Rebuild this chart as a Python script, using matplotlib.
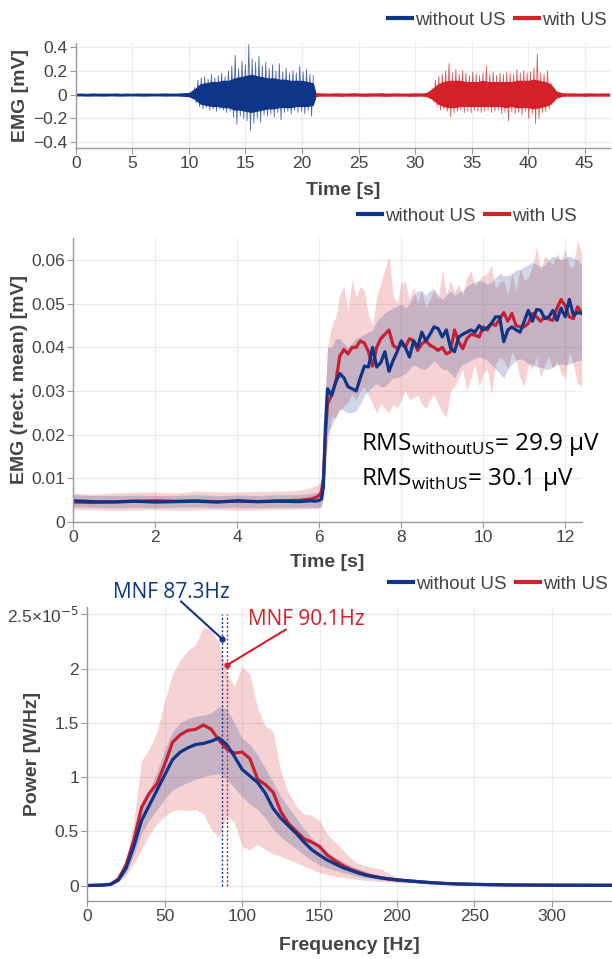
import numpy as np
import matplotlib
matplotlib.use("Agg")
from matplotlib import pyplot as plt
from matplotlib.lines import Line2D

plt.rcParams['font.family'] = ['Liberation Sans', 'DejaVu Sans']

BLUE = "#0e3587"
RED = "#d42028"
RED_LINE = "#c72131"
TXT = "#444444"
GRID = "#ebebeb"
AXIS = "#9a9a9a"
NOTE_FONT = ['Open Sans', 'DejaVu Sans']

# ---- raw EMG (top) : envelopes every 0.5 s, spikes every 0.15 s ----
raw_blue_t = np.concatenate([np.arange(0, 21.01, 0.5), [21.2]])
raw_blue_hi = [0.012, 0.013, 0.011, 0.014, 0.012, 0.013, 0.012, 0.014, 0.011, 0.013,
               0.012, 0.014, 0.012, 0.013, 0.012, 0.013, 0.014, 0.012, 0.013, 0.016,
               0.018, 0.05, 0.09, 0.10, 0.11, 0.11, 0.12, 0.12, 0.14, 0.15,
               0.16, 0.17, 0.16, 0.15, 0.14, 0.14, 0.13, 0.13, 0.12, 0.12,
               0.12, 0.11, 0.10, 0.03]
raw_blue_lo = [-0.012, -0.011, -0.013, -0.012, -0.012, -0.013, -0.011, -0.012, -0.013, -0.012,
               -0.011, -0.012, -0.013, -0.012, -0.011, -0.012, -0.013, -0.012, -0.012, -0.015,
               -0.018, -0.04, -0.08, -0.09, -0.10, -0.10, -0.11, -0.11, -0.13, -0.13,
               -0.14, -0.15, -0.14, -0.13, -0.12, -0.12, -0.11, -0.11, -0.11, -0.10,
               -0.10, -0.10, -0.09, -0.03]
raw_red_t = np.concatenate([[21.2], np.arange(21.5, 47.01, 0.5), [47.2]])
raw_red_hi = [0.02,
              0.015, 0.014, 0.013, 0.015, 0.014, 0.013, 0.016, 0.014, 0.013, 0.015,
              0.014, 0.016, 0.013, 0.014, 0.015, 0.013, 0.014, 0.015, 0.014, 0.018,
              0.05, 0.09, 0.11, 0.12, 0.12, 0.12, 0.11, 0.11, 0.11, 0.12, 0.11,
              0.11, 0.11, 0.11, 0.11, 0.12, 0.12, 0.12, 0.13, 0.12, 0.11, 0.09,
              0.03, 0.016, 0.014, 0.015, 0.013, 0.014, 0.015, 0.013, 0.014, 0.014,
              0.013]
raw_red_lo = [-0.02,
              -0.014, -0.013, -0.014, -0.013, -0.015, -0.013, -0.014, -0.013, -0.015, -0.014,
              -0.013, -0.014, -0.015, -0.013, -0.014, -0.013, -0.015, -0.014, -0.013, -0.017,
              -0.04, -0.08, -0.10, -0.11, -0.11, -0.10, -0.10, -0.10, -0.10, -0.10, -0.10,
              -0.10, -0.10, -0.11, -0.10, -0.11, -0.11, -0.11, -0.12, -0.11, -0.10, -0.08,
              -0.03, -0.015, -0.013, -0.014, -0.013, -0.015, -0.013, -0.014, -0.013, -0.014,
              -0.013]
spike_blue = [0.06, -0.07, 0.12, -0.10, 0.14, -0.12, 0.15, -0.11, 0.13, -0.13,
              0.17, -0.12, 0.14, -0.14, 0.16, -0.12, 0.18, -0.13, 0.15, -0.15,
              0.20, -0.14, 0.24, -0.19, 0.33, -0.25, 0.22, -0.18, 0.28, -0.20,
              0.25, -0.22, 0.42, -0.30, 0.30, -0.24, 0.27, -0.20, 0.32, -0.23,
              0.24, -0.17, 0.27, -0.18, 0.22, -0.16, 0.25, -0.19, 0.20, -0.15,
              0.26, -0.21, 0.19, -0.15, 0.22, -0.14, 0.18, -0.16, 0.20, -0.13,
              0.18, -0.15, 0.24, -0.14, 0.19, -0.16, 0.21, -0.13, 0.17, -0.18,
              0.16]
spike_red = [0.05, -0.06, 0.12, -0.10, 0.15, -0.13, 0.17, -0.12, 0.20, -0.14,
             0.26, -0.19, 0.18, -0.15, 0.21, -0.14, 0.17, -0.13, 0.20, -0.15,
             0.18, -0.14, 0.16, -0.15, 0.19, -0.13, 0.17, -0.14, 0.16, -0.15,
             0.18, -0.14, 0.24, -0.13, 0.17, -0.15, 0.19, -0.14, 0.16, -0.13,
             0.18, -0.16, 0.17, -0.15, 0.19, -0.22, 0.18, -0.14, 0.17, -0.16,
             0.21, -0.15, 0.18, -0.17, 0.20, -0.14, 0.18, -0.20, 0.19, -0.16,
             0.22, -0.24, 0.34, -0.20, 0.18, -0.15, 0.17, -0.14, 0.20, -0.12,
             0.10]
spike_blue_t = 10.5 + 0.15 * np.arange(len(spike_blue))
spike_red_t = 31.5 + 0.15 * np.arange(len(spike_red))

# ---- rectified mean (middle) ----
rect_t = [0, 0.5, 1.0, 1.5, 2.0, 2.5, 3.0, 3.5, 4.0, 4.5, 5.0, 5.5, 5.8, 5.9, 6.0, 6.05, 6.1, 6.15, 6.2,
          6.3, 6.4, 6.5, 6.6, 6.7, 6.8, 6.9, 7.0, 7.1, 7.2, 7.3, 7.4, 7.5, 7.6, 7.7, 7.8, 7.9,
          8.0, 8.1, 8.2, 8.3, 8.4, 8.5, 8.6, 8.7, 8.8, 8.9, 9.0, 9.1, 9.2, 9.3, 9.4, 9.5, 9.6,
          9.7, 9.8, 9.9, 10.0, 10.1, 10.2, 10.3, 10.4, 10.5, 10.6, 10.7, 10.8, 10.9, 11.0, 11.1,
          11.2, 11.3, 11.4, 11.5, 11.6, 11.7, 11.8, 11.9, 12.0, 12.1, 12.2, 12.3, 12.4]
rect_blue = [0.0048, 0.0046, 0.0045, 0.0047, 0.0045, 0.0046, 0.0047, 0.0045, 0.0048, 0.0046,
             0.0047, 0.0046, 0.0048, 0.0047, 0.0049, 0.0052, 0.008, 0.022, 0.0305,
             0.029, 0.032, 0.034, 0.033, 0.031, 0.0305, 0.030, 0.033, 0.0357, 0.0355, 0.040,
             0.0355, 0.0365, 0.039, 0.0345, 0.037, 0.039, 0.0415, 0.040, 0.0378, 0.0415, 0.040,
             0.0435, 0.0415, 0.043, 0.0447, 0.0443, 0.0424, 0.044, 0.040, 0.039, 0.0424, 0.043,
             0.0435, 0.044, 0.0435, 0.045, 0.044, 0.0445, 0.0455, 0.047, 0.047, 0.0413, 0.044,
             0.0447, 0.044, 0.0435, 0.046, 0.0485, 0.046, 0.0487, 0.0485, 0.0466, 0.047, 0.0485,
             0.0462, 0.049, 0.047, 0.051, 0.0474, 0.048, 0.0478]
rect_red = [0.0045, 0.0044, 0.0046, 0.0047, 0.0048, 0.0047, 0.0048, 0.0046, 0.0047, 0.0046,
            0.0048, 0.0049, 0.0052, 0.0055, 0.0060, 0.0068, 0.010, 0.020, 0.027,
            0.029, 0.032, 0.038, 0.0395, 0.0385, 0.040, 0.040, 0.0415, 0.041, 0.039, 0.0357,
            0.040, 0.042, 0.043, 0.044, 0.0405, 0.0397, 0.0408, 0.040, 0.042, 0.0415, 0.0393,
            0.0408, 0.0415, 0.0405, 0.040, 0.0393, 0.040, 0.0385, 0.039, 0.044, 0.0413, 0.0397,
            0.042, 0.043, 0.0428, 0.0424, 0.0447, 0.044, 0.0455, 0.045, 0.0465, 0.048, 0.046,
            0.0478, 0.045, 0.0447, 0.0447, 0.0455, 0.0478, 0.047, 0.046, 0.047, 0.0465, 0.0462,
            0.049, 0.051, 0.0495, 0.047, 0.0466, 0.0493, 0.0481]
rect_red_hi = [0.0065, 0.0063, 0.0066, 0.0068, 0.0068, 0.0066, 0.007, 0.0068, 0.0068, 0.0069,
               0.007, 0.0072, 0.0078, 0.0082, 0.0088, 0.0095, 0.016, 0.030, 0.040,
               0.045, 0.047, 0.052, 0.054, 0.0485, 0.0556, 0.0516, 0.054, 0.053, 0.0473, 0.045,
               0.0516, 0.055, 0.058, 0.061, 0.052, 0.050, 0.055, 0.055, 0.051, 0.054, 0.050,
               0.053, 0.049, 0.051, 0.053, 0.051, 0.058, 0.052, 0.0554, 0.0527, 0.0546, 0.052,
               0.056, 0.0577, 0.054, 0.0554, 0.0565, 0.057, 0.059, 0.0535, 0.055, 0.0554, 0.052,
               0.057, 0.053, 0.058, 0.0554, 0.056, 0.0585, 0.063, 0.0577, 0.061, 0.060, 0.059,
               0.0615, 0.060, 0.0627, 0.0585, 0.0585, 0.0646, 0.0615]
rect_red_lo = [0.0028, 0.0027, 0.0026, 0.0027, 0.0028, 0.0026, 0.0027, 0.0028, 0.0026, 0.0027,
               0.0028, 0.0029, 0.003, 0.003, 0.0032, 0.0035, 0.006, 0.012, 0.018,
               0.024, 0.024, 0.0255, 0.0265, 0.0275, 0.0293, 0.028, 0.030, 0.031, 0.029, 0.027,
               0.025, 0.027, 0.026, 0.025, 0.027, 0.026, 0.028, 0.030, 0.028, 0.0285, 0.029,
               0.027, 0.026, 0.028, 0.029, 0.027, 0.025, 0.024, 0.030, 0.031, 0.033, 0.035,
               0.030, 0.033, 0.0362, 0.031, 0.034, 0.035, 0.0293, 0.0362, 0.0378, 0.037, 0.035,
               0.039, 0.037, 0.033, 0.031, 0.0362, 0.035, 0.0378, 0.033, 0.036, 0.0378, 0.035,
               0.037, 0.034, 0.033, 0.039, 0.0362, 0.0317, 0.031]
rect_blue_hi = [0.0062, 0.006, 0.006, 0.0061, 0.006, 0.006, 0.0062, 0.006, 0.0061, 0.006,
                0.0062, 0.0062, 0.0065, 0.0066, 0.0068, 0.0075, 0.012, 0.03, 0.040,
                0.040, 0.042, 0.042, 0.041, 0.040, 0.041, 0.042, 0.0425, 0.043, 0.0435, 0.044,
                0.046, 0.047, 0.048, 0.0485, 0.049, 0.0495, 0.050, 0.049, 0.050, 0.052, 0.053,
                0.053, 0.052, 0.053, 0.0535, 0.052, 0.051, 0.052, 0.053, 0.052, 0.0527, 0.053,
                0.054, 0.0546, 0.055, 0.0554, 0.055, 0.0546, 0.055, 0.056, 0.057, 0.0565, 0.0565,
                0.057, 0.0577, 0.058, 0.0585, 0.059, 0.0596, 0.059, 0.0585, 0.059, 0.060, 0.061,
                0.0605, 0.060, 0.0605, 0.061, 0.0605, 0.060, 0.059]
rect_blue_lo = [0.0034, 0.0033, 0.0032, 0.0033, 0.0032, 0.0033, 0.0034, 0.0032, 0.0033, 0.0032,
                0.0033, 0.0033, 0.0033, 0.0032, 0.0033, 0.0035, 0.005, 0.014, 0.02,
                0.022, 0.024, 0.026, 0.0255, 0.025, 0.025, 0.0255, 0.027, 0.029, 0.030, 0.031,
                0.0317, 0.031, 0.031, 0.032, 0.033, 0.033, 0.0335, 0.034, 0.035, 0.036, 0.0355,
                0.035, 0.035, 0.036, 0.037, 0.036, 0.035, 0.035, 0.034, 0.033, 0.035, 0.0362,
                0.0365, 0.037, 0.0375, 0.0378, 0.0375, 0.037, 0.036, 0.035, 0.034, 0.033, 0.035,
                0.0362, 0.037, 0.0374, 0.037, 0.0362, 0.036, 0.0355, 0.0355, 0.035, 0.035, 0.0355,
                0.036, 0.0362, 0.036, 0.0362, 0.0365, 0.037, 0.037]

# ---- power spectrum (bottom), values in 1e-5 W/Hz ----
freq = list(range(0, 201, 5)) + [210, 220, 230, 240, 250, 270, 300, 340]
psd_blue = [0.0, 0.002, 0.004, 0.01, 0.05, 0.16, 0.36, 0.6, 0.74, 0.88,
            1.02, 1.16, 1.23, 1.27, 1.30, 1.31, 1.33, 1.36, 1.30, 1.19,
            1.07, 1.01, 0.95, 0.85, 0.71, 0.62, 0.55, 0.48, 0.40, 0.33,
            0.28, 0.235, 0.2, 0.165, 0.14, 0.115, 0.095, 0.082, 0.07, 0.06,
            0.052, 0.04, 0.029, 0.02, 0.015, 0.011, 0.006, 0.003, 0.002]
psd_red = [0.0, 0.002, 0.004, 0.012, 0.06, 0.19, 0.42, 0.72, 0.85, 0.94,
           1.12, 1.32, 1.39, 1.43, 1.44, 1.48, 1.44, 1.34, 1.26, 1.22,
           1.23, 1.17, 0.98, 0.93, 0.86, 0.68, 0.57, 0.5, 0.43, 0.40,
           0.36, 0.28, 0.23, 0.185, 0.15, 0.125, 0.1, 0.083, 0.07, 0.06,
           0.052, 0.04, 0.028, 0.019, 0.013, 0.01, 0.005, 0.003, 0.002]
psd_red_hi = [0.0, 0.003, 0.006, 0.015, 0.08, 0.22, 0.6, 1.15, 1.26, 1.42,
              1.70, 1.95, 2.08, 2.17, 2.22, 2.38, 2.36, 2.24, 1.95, 1.84,
              2.02, 1.95, 1.63, 1.47, 1.42, 1.05, 0.86, 0.73, 0.66, 0.645,
              0.6, 0.47, 0.40, 0.33, 0.25, 0.2, 0.18, 0.165, 0.15, 0.11,
              0.075, 0.055, 0.038, 0.026, 0.018, 0.013, 0.007, 0.004, 0.003]
psd_red_lo = [0.0, 0.001, 0.002, 0.006, 0.03, 0.09, 0.2, 0.33, 0.47, 0.57,
              0.64, 0.69, 0.70, 0.69, 0.70, 0.66, 0.52, 0.45, 0.64, 0.58,
              0.36, 0.33, 0.38, 0.33, 0.29, 0.27, 0.24, 0.21, 0.18, 0.15,
              0.12, 0.1, 0.085, 0.075, 0.065, 0.055, 0.048, 0.042, 0.037, 0.032,
              0.028, 0.022, 0.016, 0.011, 0.008, 0.006, 0.003, 0.002, 0.001]
psd_blue_hi = [0.0, 0.002, 0.005, 0.012, 0.06, 0.2, 0.45, 0.72, 0.88, 1.05,
               1.25, 1.42, 1.5, 1.54, 1.56, 1.57, 1.59, 1.65, 1.63, 1.50,
               1.36, 1.3, 1.2, 1.08, 0.95, 0.82, 0.72, 0.62, 0.52, 0.44,
               0.37, 0.31, 0.26, 0.22, 0.185, 0.155, 0.13, 0.11, 0.092, 0.08,
               0.068, 0.05, 0.036, 0.025, 0.018, 0.013, 0.007, 0.004, 0.003]
psd_blue_lo = [0.0, 0.001, 0.003, 0.008, 0.04, 0.12, 0.28, 0.48, 0.6, 0.7,
               0.8, 0.88, 0.92, 0.95, 0.98, 1.0, 1.02, 1.03, 0.98, 0.9,
               0.82, 0.75, 0.7, 0.62, 0.52, 0.45, 0.39, 0.34, 0.28, 0.23,
               0.19, 0.16, 0.14, 0.12, 0.1, 0.085, 0.07, 0.06, 0.05, 0.043,
               0.037, 0.028, 0.02, 0.014, 0.01, 0.008, 0.004, 0.002, 0.001]
mnf_blue = 87.3
mnf_red = 90.1


def style_axes(ax):
    for side in ["top", "right"]:
        ax.spines[side].set_visible(False)
    for side in ["left", "bottom"]:
        ax.spines[side].set_color(AXIS)
        ax.spines[side].set_linewidth(1.0)
    ax.grid(True, color=GRID, lw=0.9)
    ax.set_axisbelow(True)
    ax.tick_params(colors=TXT, labelsize=12.5, length=4, width=0.8, pad=2)
    ax.tick_params(axis="both", color=AXIS)


def add_legend(fig, x, y):
    handles = [Line2D([], [], color=BLUE, lw=3), Line2D([], [], color=RED, lw=3)]
    leg = fig.legend(handles, ["without US", "with US"], loc="center right",
                     bbox_to_anchor=(x, y), ncol=2, frameon=False, fontsize=13.5,
                     handlelength=1.3, handletextpad=0.15, columnspacing=0.5,
                     borderaxespad=0, borderpad=0)
    for t in leg.get_texts():
        t.set_color(TXT)


W, H = 612, 959
fig = plt.figure(figsize=(W / 100, H / 100), dpi=100)


def px_axes(left, top, right, bottom):
    return fig.add_axes([left / W, 1 - bottom / H, (right - left) / W, (bottom - top) / H])


# top panel
ax1 = px_axes(75.7, 42.7, 609.7, 147.7)
style_axes(ax1)
ax1.fill_between(raw_blue_t, raw_blue_lo, raw_blue_hi, color=BLUE, lw=0)
ax1.plot(spike_blue_t, spike_blue, color=BLUE, lw=0.6, alpha=0.75)
ax1.fill_between(raw_red_t, raw_red_lo, raw_red_hi, color=RED, lw=0)
ax1.plot(spike_red_t, spike_red, color=RED, lw=0.6, alpha=0.75)
ax1.set_xlim(0, 47.2)
ax1.set_ylim(-0.445, 0.435)
ax1.set_xticks(range(0, 46, 5))
ax1.set_yticks([-0.4, -0.2, 0, 0.2, 0.4])
ax1.set_yticklabels(["\u22120.4", "\u22120.2", "0", "0.2", "0.4"])
ax1.set_xlabel("Time [s]", fontsize=14, fontweight="bold", color=TXT)
ax1.set_ylabel("EMG [mV]", fontsize=14, fontweight="bold", color=TXT)
ax1.xaxis.set_label_coords(0.5, -0.33)
ax1.yaxis.set_label_coords(-0.088, 0.5)
add_legend(fig, 607 / W, 1 - 20 / H)

# middle panel
ax2 = px_axes(73.4, 238, 581.6, 521.7)
style_axes(ax2)
ax2.fill_between(rect_t, rect_red_lo, rect_red_hi, color=RED, alpha=0.2, lw=0)
ax2.fill_between(rect_t, rect_blue_lo, rect_blue_hi, color=BLUE, alpha=0.2, lw=0)
ax2.plot(rect_t, rect_red, color=RED_LINE, lw=2.3)
ax2.plot(rect_t, rect_blue, color=BLUE, lw=2.3)
ax2.set_xlim(0, 12.4)
ax2.set_ylim(0, 0.0651)
ax2.set_xticks(range(0, 13, 2))
ax2.set_yticks([0, 0.01, 0.02, 0.03, 0.04, 0.05, 0.06])
ax2.set_yticklabels(["0", "0.01", "0.02", "0.03", "0.04", "0.05", "0.06"])
ax2.set_xlabel("Time [s]", fontsize=14, fontweight="bold", color=TXT)
ax2.set_ylabel("EMG (rect. mean) [mV]", fontsize=14, fontweight="bold", color=TXT)
ax2.xaxis.set_label_coords(0.5, -0.115)
ax2.yaxis.set_label_coords(-0.089, 0.5)
ax2.text(7.01, 0.01634, "RMS$_{\\mathregular{withoutUS}}$= 29.9 \u00b5V",
         fontsize=17.5, family=NOTE_FONT, va="baseline", color="black")
ax2.text(7.01, 0.00853, "RMS$_{\\mathregular{withUS}}$= 30.1 \u00b5V",
         fontsize=17.5, family=NOTE_FONT, va="baseline", color="black")
add_legend(fig, 577 / W, 1 - 216 / H)

# bottom panel
ax3 = px_axes(87.4, 606.7, 612, 900.7)
style_axes(ax3)
ax3.fill_between(freq, psd_red_lo, psd_red_hi, color=RED, alpha=0.2, lw=0)
ax3.fill_between(freq, psd_blue_lo, psd_blue_hi, color=BLUE, alpha=0.2, lw=0)
ax3.plot(freq, psd_red, color=RED_LINE, lw=2.3)
ax3.plot(freq, psd_blue, color=BLUE, lw=2.3)
ax3.plot([mnf_blue, mnf_blue], [0, 2.5], color=BLUE, lw=1, ls=(0, (1.5, 1.5)))
ax3.plot([mnf_red, mnf_red], [0, 2.5], color=RED, lw=1, ls=(0, (1.5, 1.5)))
ax3.annotate("", xy=(mnf_blue, 2.27), xytext=(60.4, 2.62), annotation_clip=False,
             arrowprops=dict(arrowstyle="-", color=BLUE, lw=1.5, shrinkA=0, shrinkB=0))
ax3.plot([mnf_blue], [2.27], "o", ms=3.5, color=BLUE, clip_on=False)
ax3.annotate("", xy=(mnf_red, 2.03), xytext=(128.3, 2.36), annotation_clip=False,
             arrowprops=dict(arrowstyle="-", color=RED, lw=1.5, shrinkA=0, shrinkB=0))
ax3.plot([mnf_red], [2.03], "o", ms=3.5, color=RED, clip_on=False)
ax3.text(54, 2.646, "MNF %.1fHz" % mnf_blue, color=BLUE, ha="center", va="baseline",
         fontsize=15, family=NOTE_FONT, clip_on=False)
ax3.text(103.5, 2.40, "MNF %.1fHz" % mnf_red, color=RED, ha="left", va="baseline",
         fontsize=15, family=NOTE_FONT, clip_on=False)
ax3.set_xlim(0, 339)
ax3.set_ylim(-0.14, 2.57)
ax3.set_xticks(range(0, 301, 50))
ax3.set_yticks([0, 0.5, 1, 1.5, 2, 2.5])
ax3.set_yticklabels(["0", "0.5", "1", "1.5", "2", "2.5\u00d710$^{-5}$"])
ax3.set_xlabel("Frequency [Hz]", fontsize=14, fontweight="bold", color=TXT)
ax3.set_ylabel("Power [W/Hz]", fontsize=14, fontweight="bold", color=TXT)
ax3.xaxis.set_label_coords(0.5, -0.122)
ax3.yaxis.set_label_coords(-0.0885, 0.5)
add_legend(fig, 608 / W, 1 - 584 / H)

fig.savefig("out.png", dpi=100)
